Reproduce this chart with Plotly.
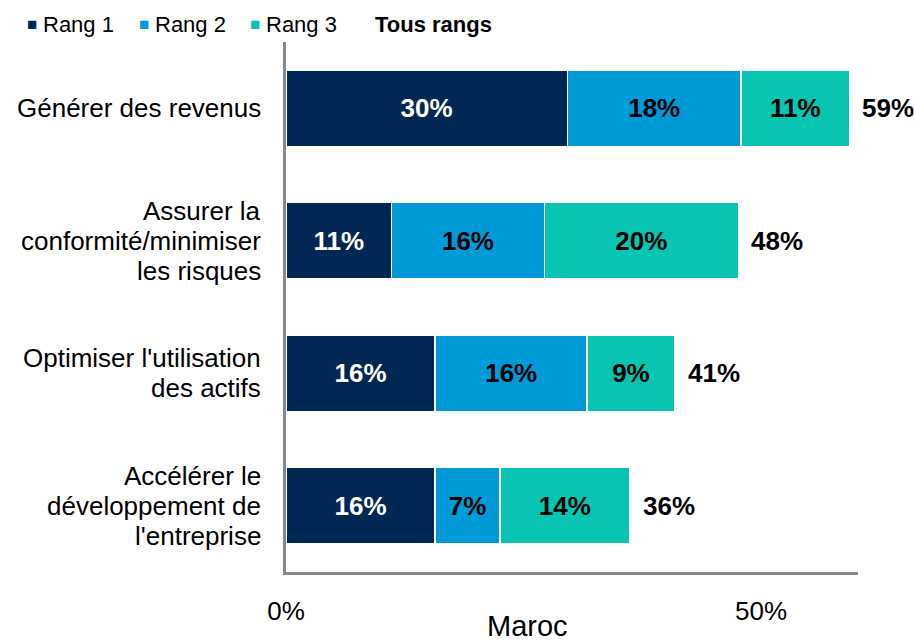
import plotly.graph_objects as go

categories = ["Générer des revenus",
              "Assurer la conformité/minimiser les risques",
              "Optimiser l'utilisation des actifs",
              "Accélérer le développement de l'entreprise"]
category_lines = [["Générer des revenus"],
                  ["Assurer la", "conformité/minimiser", "les risques"],
                  ["Optimiser l'utilisation", "des actifs"],
                  ["Accélérer le", "développement de", "l'entreprise"]]
rang1 = [29.6, 11.1, 15.7, 15.7]
rang2 = [18.3, 16.1, 16.0, 6.8]
rang3 = [11.4, 20.4, 9.2, 13.7]
totals = [a + b + c for a, b, c in zip(rang1, rang2, rang3)]
series_names = ["Rang 1", "Rang 2", "Rang 3"]
colors = ["#002855", "#009ad8", "#08c4b2"]
text_colors = ["white", "black", "black"]
x_ticks = [0, 50]
x_tick_labels = ["0%", "50%"]
axis_title = "Maroc"
total_label = "Tous rangs"

FONT = "Arial, Liberation Sans, sans-serif"
W, H = 914, 644
L, R, T, B = 286, 56, 42, 72

fig = go.Figure()
for name, vals, col, tcol in zip(series_names, [rang1, rang2, rang3], colors, text_colors):
    fig.add_trace(go.Bar(
        y=categories, x=vals, orientation="h", name=name,
        marker=dict(color=col, line=dict(color="white", width=1.5)),
        texttemplate="%{x:.0f}%", textposition="inside", insidetextanchor="middle",
        textfont=dict(family=FONT, size=26, color=tcol, weight="bold"),
        constraintext="none", showlegend=False, hoverinfo="skip",
    ))

for cat, tot in zip(categories, totals):
    fig.add_annotation(x=tot, y=cat, xref="x", yref="y", text=f"<b>{tot:.0f}%</b>",
                       showarrow=False, xanchor="left", xshift=11,
                       font=dict(family=FONT, size=26, color="black"))

pw = W - L - R
ph = H - T - B
def px(xp):
    return (xp - L) / pw
def py(yp):
    return 1 + (T - yp) / ph

# category labels (one annotation per line, right-aligned)
LINE = 30
for cat, lines in zip(categories, category_lines):
    n = len(lines)
    for i, line in enumerate(lines):
        off = (i - (n - 1) / 2) * LINE
        fig.add_annotation(x=px(263), y=cat, xref="paper", yref="y", text=line,
                           showarrow=False, xanchor="right", yanchor="middle",
                           yshift=-off, font=dict(family=FONT, size=26, color="black"))

legend_x = [(32, 41), (144, 153), (255, 264)]
for (mx, tx), name, col in zip(legend_x, series_names, colors):
    fig.add_annotation(x=px(mx), y=py(25), xref="paper", yref="paper", text="■",
                       showarrow=False, xanchor="center", yanchor="middle",
                       font=dict(family=FONT, size=17, color=col))
    fig.add_annotation(x=px(tx), y=py(25), xref="paper", yref="paper", text=name,
                       showarrow=False, xanchor="left", yanchor="middle",
                       font=dict(family=FONT, size=22, color="black"))
fig.add_annotation(x=px(373), y=py(25), xref="paper", yref="paper", text=f"<b>{total_label}</b>",
                   showarrow=False, xanchor="left", yanchor="middle",
                   font=dict(family=FONT, size=22, color="black"))

fig.add_annotation(x=px(527), y=py(644), xref="paper", yref="paper", text=axis_title,
                   showarrow=False, xanchor="center", yanchor="bottom",
                   font=dict(family=FONT, size=29, color="black"))

fig.update_layout(
    width=W, height=H, barmode="stack", bargap=0.426,
    margin=dict(l=L, r=R, t=T, b=B, autoexpand=False),
    plot_bgcolor="white", paper_bgcolor="white",
    font=dict(family=FONT, color="black"),
    xaxis=dict(range=[0, 60.2], tickvals=x_ticks, ticktext=x_tick_labels,
               showgrid=False, zeroline=False, showline=True, linecolor="#888888", linewidth=3,
               ticks="", ticklabelstandoff=14, tickfont=dict(size=26, family=FONT)),
    yaxis=dict(autorange="reversed", showgrid=False, zeroline=False, showline=True,
               linecolor="#888888", linewidth=3, ticks="", showticklabels=False),
)

fig.write_html("out.html", config={"displayModeBar": False},
               post_script="document.body.style.margin='0';")
